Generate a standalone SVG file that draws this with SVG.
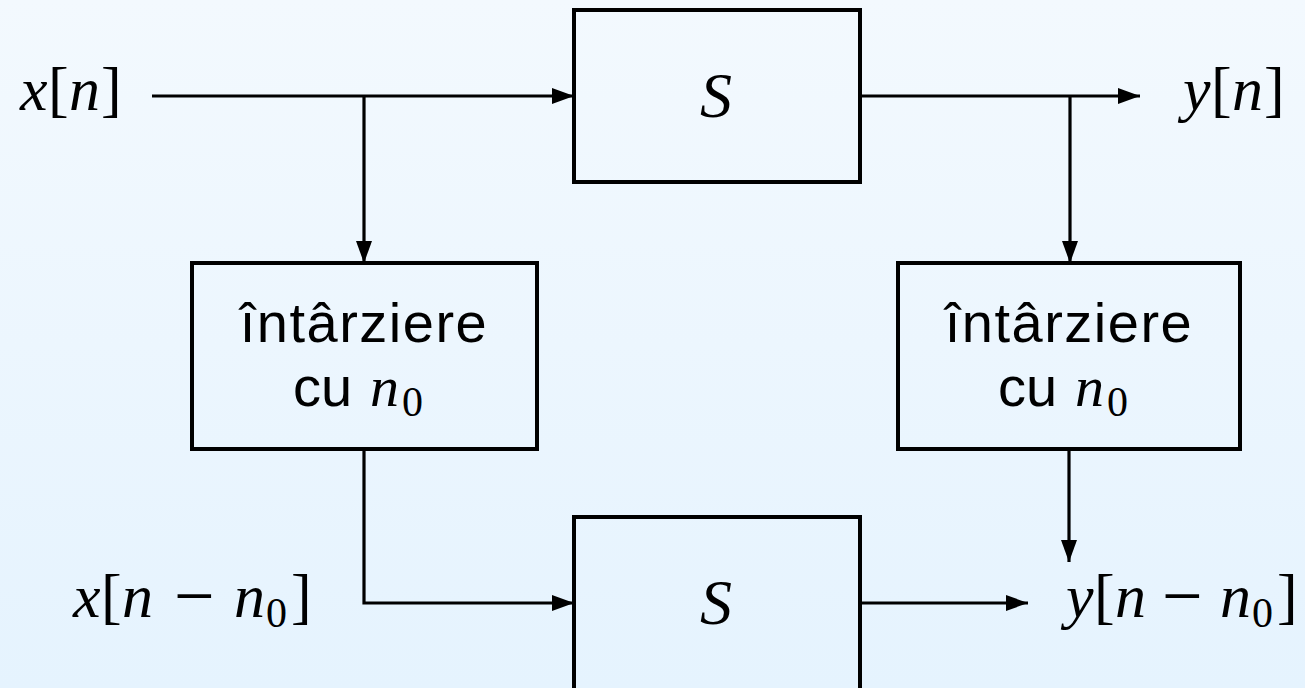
<svg xmlns="http://www.w3.org/2000/svg" width="1305" height="688" viewBox="0 0 1305 688">
<defs>
<linearGradient id="bg" x1="0" y1="0" x2="0" y2="1">
<stop offset="0" stop-color="#f3f9fe"/>
<stop offset="1" stop-color="#e5f3fe"/>
</linearGradient>
<marker id="arr" markerUnits="userSpaceOnUse" markerWidth="24" markerHeight="18" refX="22" refY="8" orient="auto">
<path d="M0,0 L22,8 L0,16 Z" fill="#000"/>
</marker>
<style>
.box{fill:none;stroke:#000;stroke-width:4}
.ln{fill:none;stroke:#000;stroke-width:3.2}
text{fill:#000}
.m{font-family:"Liberation Serif","Times New Roman",serif;font-size:62px}
.i{font-style:italic}
.sub{font-size:42px;font-style:normal}
.mi{font-size:72px}
.bn{font-size:58px}
.s{font-family:"Liberation Sans",Arial,sans-serif;font-size:56px}
.ls{letter-spacing:1.5px}
.cal{font-family:"Liberation Serif",serif;font-style:italic;font-size:64px}
</style>
</defs>
<rect width="1305" height="688" fill="url(#bg)"/>

<g id="connectors">
<path class="ln" d="M152,96 H574" marker-end="url(#arr)"/>
<path class="ln" d="M364,96 V263" marker-end="url(#arr)"/>
<path class="ln" d="M860,96 H1140" marker-end="url(#arr)"/>
<path class="ln" d="M1070,96 V263" marker-end="url(#arr)"/>
<path class="ln" d="M364,449 V603 H574" marker-end="url(#arr)"/>
<path class="ln" d="M1069,449 V562" marker-end="url(#arr)"/>
<path class="ln" d="M860,603 H1028" marker-end="url(#arr)"/>
</g>

<g id="sys-top">
<rect class="box" x="574" y="10" width="286" height="172"/>
<text class="cal" x="716" y="117" text-anchor="middle">S</text>
</g>

<g id="sys-bottom">
<rect class="box" x="574" y="517" width="286" height="200"/>
<text class="cal" x="716" y="624" text-anchor="middle">S</text>
</g>

<g id="delay-left">
<rect class="box" x="192" y="263" width="345" height="186"/>
<text class="s ls" x="364" y="342" text-anchor="middle">întârziere</text>
<text class="s" x="293" y="406">cu</text>
<text class="m i bn" x="370" y="406">n</text>
<text class="m sub" x="402" y="416">0</text>
</g>

<g id="delay-right">
<rect class="box" x="898" y="263" width="342" height="186"/>
<text class="s ls" x="1069" y="342" text-anchor="middle">întârziere</text>
<text class="s" x="998" y="406">cu</text>
<text class="m i bn" x="1075" y="406">n</text>
<text class="m sub" x="1107" y="416">0</text>
</g>

<g id="label-xn">
<text class="m"><tspan class="i" x="20" y="110">x</tspan><tspan x="48" y="110">[</tspan><tspan class="i" x="69" y="110">n</tspan><tspan x="101" y="110">]</tspan></text>
</g>
<g id="label-yn">
<text class="m"><tspan class="i" x="1183" y="110">y</tspan><tspan x="1211" y="110">[</tspan><tspan class="i" x="1232" y="110">n</tspan><tspan x="1264" y="110">]</tspan></text>
</g>
<g id="label-xnn0">
<text class="m"><tspan class="i" x="73" y="617">x</tspan><tspan x="101" y="617">[</tspan><tspan class="i" x="122" y="617">n</tspan><tspan class="mi" x="174" y="620">−</tspan><tspan class="i" x="234" y="617">n</tspan><tspan class="sub" x="266" y="627">0</tspan><tspan x="291" y="617">]</tspan></text>
</g>
<g id="label-ynn0">
<text class="m"><tspan class="i" x="1066" y="617">y</tspan><tspan x="1094" y="617">[</tspan><tspan class="i" x="1115" y="617">n</tspan><tspan class="mi" x="1162" y="620">−</tspan><tspan class="i" x="1220" y="617">n</tspan><tspan class="sub" x="1252" y="627">0</tspan><tspan x="1277" y="617">]</tspan></text>
</g>
</svg>
